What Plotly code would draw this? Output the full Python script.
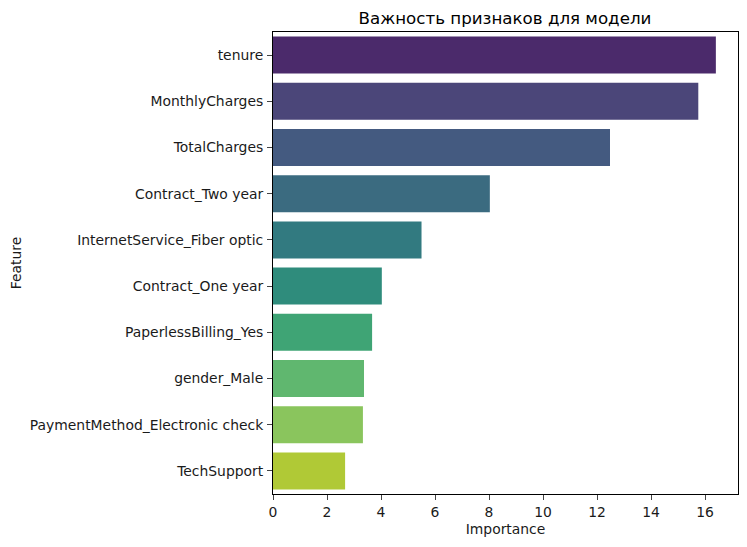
import plotly.graph_objects as go

features = ["tenure", "MonthlyCharges", "TotalCharges", "Contract_Two year",
            "InternetService_Fiber optic", "Contract_One year", "PaperlessBilling_Yes",
            "gender_Male", "PaymentMethod_Electronic check", "TechSupport"]
importance = [16.4, 15.75, 12.48, 8.03, 5.5, 4.03, 3.67, 3.37, 3.33, 2.67]
colors = ["#4b2a6b", "#4b4679", "#445a80", "#3b6b80", "#327a80", "#2f8c7c", "#3fa475", "#60b76f", "#8ac55d", "#b0c936"]
tick_vals = [0, 2, 4, 6, 8, 10, 12, 14, 16]
label_font = dict(size=13.9, color="#1a1a1a")

fig = go.Figure(go.Bar(x=importance, y=features, orientation="h", marker=dict(color=colors, line_width=0), width=0.8))
fig.update_layout(
    width=739, height=539, autosize=False,
    margin=dict(l=265, r=9, t=24, b=53, autoexpand=False),
    plot_bgcolor="white", paper_bgcolor="white",
    font=dict(family="DejaVu Sans", size=13.9, color="#1a1a1a"),
    showlegend=False,
    title=dict(text="Важность признаков для модели", x=0.6725, xanchor="center", y=0.981, yanchor="middle", font=dict(size=16.67, color="black")),
    xaxis=dict(title=dict(text="Importance", standoff=5, font=label_font), range=[0, 17.22], tickvals=tick_vals, ticks="outside", ticklen=5,
               showgrid=False, zeroline=False, showline=True, mirror=True, linecolor="black", linewidth=1, automargin=False),
    yaxis=dict(title=dict(text="Feature", standoff=6, font=label_font), autorange=False, range=[9.5, -0.5], ticks="outside", ticklen=5,
               ticklabelstandoff=1, showgrid=False, zeroline=False, showline=True, mirror=True, linecolor="black", linewidth=1, automargin=False),
)
fig.write_html("out.html")
